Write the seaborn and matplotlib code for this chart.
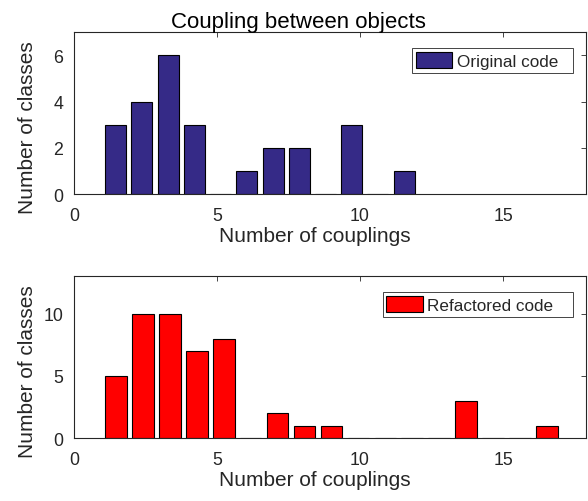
import matplotlib
matplotlib.use("Agg")
import matplotlib.pyplot as plt
from matplotlib.patches import Patch
import seaborn as sns

# Number of classes having each coupling count
couplings_original = [1, 2, 3, 4, 5, 6, 7, 8, 9, 10, 11, 12]
classes_original = [3, 4, 6, 3, 0, 1, 2, 2, 0, 3, 0, 1]

couplings_refactored = [1, 2, 3, 4, 5, 6, 7, 8, 9, 10, 11, 12, 13, 14, 15, 16, 17]
classes_refactored = [5, 10, 10, 7, 8, 0, 2, 1, 1, 0, 0, 0, 0, 3, 0, 0, 1]

title_text = "Coupling between objects"
x_label = "Number of couplings"
y_label = "Number of classes"
legend_original = "Original code"
legend_refactored = "Refactored code"
x_ticks = [0, 5, 10, 15]
y_ticks_original = [0, 2, 4, 6]
y_ticks_refactored = [0, 5, 10]

color_original = "#352A87"
color_refactored = "#FF0000"
axis_gray = "#262626"

sns.set_theme(style="white")
plt.rcParams["font.family"] = ["Liberation Sans", "DejaVu Sans"]

W, H = 588, 502
fig = plt.figure(figsize=(W / 100, H / 100), dpi=100)
ax_top = fig.add_axes([74 / W, 1 - 195 / H, 512 / W, 161.7 / H])
ax_bot = fig.add_axes([74 / W, 1 - 439.3 / H, 512 / W, 162 / H])


def draw_panel(ax, couplings, classes, color, yticks, ymax, label, legend_box):
    sns.histplot(
        x=couplings, weights=classes,
        bins=len(couplings), binrange=(min(couplings), max(couplings)),
        shrink=0.8, color=color, edgecolor="black", linewidth=0.8,
        alpha=1, ax=ax,
    )
    ax.set_xlim(0, 17.9)
    ax.set_ylim(0, ymax)
    ax.set_xticks(x_ticks)
    ax.set_yticks(yticks)
    ax.tick_params(axis="both", direction="in", length=3.6, width=0.6,
                   color=axis_gray, labelcolor=axis_gray, labelsize=12.75,
                   top=True, right=True)
    ax.tick_params(axis="x", pad=9.3)
    ax.tick_params(axis="y", pad=7.9)
    for sp in ax.spines.values():
        sp.set_color(axis_gray)
        sp.set_linewidth(0.8)
    ax.set_xlabel(x_label, fontsize=15, color=axis_gray)
    ax.set_ylabel(y_label, fontsize=15, color=axis_gray)
    ax.xaxis.set_label_coords(0.471, -0.198)
    ax.yaxis.set_label_coords(-0.073, 0.417)
    handle = Patch(facecolor=color, edgecolor="black", linewidth=0.8)
    leg = ax.legend(
        [handle], [label], loc="upper right", bbox_to_anchor=legend_box,
        mode="expand", borderaxespad=0, fontsize=12.3, frameon=True,
        fancybox=False, framealpha=1, borderpad=0.22, handlelength=2.15,
        handleheight=1.1, handletextpad=0.25,
    )
    frame = leg.get_frame()
    frame.set_edgecolor(axis_gray)
    frame.set_linewidth(0.6)
    frame.set_facecolor("white")


draw_panel(ax_top, couplings_original, classes_original, color_original,
           y_ticks_original, 7, legend_original, (0.660, 0.5, 0.314, 0.403))
draw_panel(ax_bot, couplings_refactored, classes_refactored, color_refactored,
           y_ticks_refactored, 13, legend_refactored, (0.603, 0.5, 0.371, 0.901 - 0.5))

ax_top.set_title(title_text, fontsize=16, color="black", x=0.439, y=1.031, pad=0)

fig.savefig("out.png", dpi=100)
